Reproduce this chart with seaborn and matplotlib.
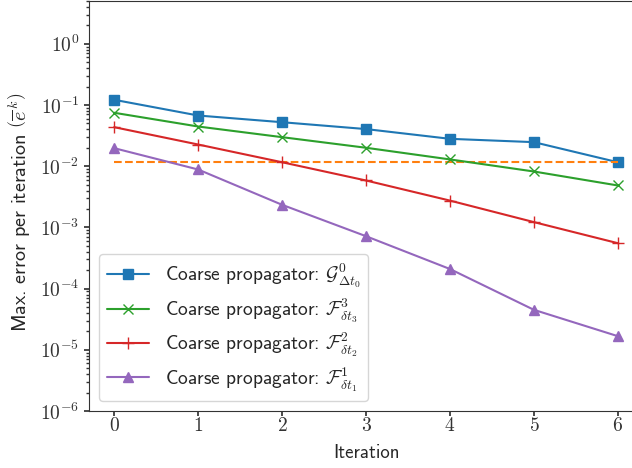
import matplotlib
matplotlib.use("Agg")
import matplotlib.pyplot as plt
import numpy as np
import pandas as pd
import seaborn as sns
from matplotlib.ticker import FuncFormatter, LogLocator, FixedLocator, NullLocator

# Maximum error per Parareal iteration for each coarse propagator
iterations = [0, 1, 2, 3, 4, 5, 6]
err_G0 = [0.1216, 0.0673, 0.0523, 0.0404, 0.0280, 0.0247, 0.0116]
err_F3 = [0.0746, 0.0445, 0.0298, 0.0200, 0.0129, 0.00819, 0.00484]
err_F2 = [0.0434, 0.0226, 0.0116, 0.00584, 0.00274, 0.00122, 0.000552]
err_F1 = [0.0197, 0.00883, 0.00234, 0.000718, 0.000209, 4.5e-5, 1.67e-5]
tolerance = 0.0117
decades = [1e-6, 1e-5, 1e-4, 1e-3, 1e-2, 1e-1, 1e0]

series_labels = [
    r"Coarse propagator: $\mathcal{G}^0_{\Delta t_0}$",
    r"Coarse propagator: $\mathcal{F}^3_{\delta t_3}$",
    r"Coarse propagator: $\mathcal{F}^2_{\delta t_2}$",
    r"Coarse propagator: $\mathcal{F}^1_{\delta t_1}$",
]

sns.set_theme(style="ticks", rc={
    "axes.edgecolor": ".2",
    "xtick.color": ".2",
    "ytick.color": ".2",
    "xtick.major.size": 3.5,
    "ytick.major.size": 3.5,
    "ytick.minor.size": 2,
    "axes.linewidth": 0.8,
})
plt.rcParams["mathtext.fontset"] = "cm"
plt.rcParams["font.family"] = ["cmss10", "DejaVu Sans"]
plt.rcParams["axes.unicode_minus"] = False

df = pd.DataFrame({
    "Iteration": iterations,
    "G0": err_G0,
    "F3": err_F3,
    "F2": err_F2,
    "F1": err_F1,
})

fig = plt.figure(figsize=(6.32, 4.68), dpi=100)
ax = fig.add_axes([89 / 632, 57 / 468, 554 / 632, 410 / 468])

styles = [
    ("G0", "#1f77b4", "s", 7),
    ("F3", "#2ca02c", "x", 7),
    ("F2", "#d62728", "+", 8),
    ("F1", "#9467bd", "^", 7.5),
]

for i, ((col, color, mk, ms), lab) in enumerate(zip(styles, series_labels)):
    sns.lineplot(data=df, x="Iteration", y=col, ax=ax, color=color, marker=mk,
                 markersize=ms, markeredgecolor=color, markerfacecolor=color,
                 markeredgewidth=1.0, linewidth=1.5, label=lab)
    if i == 0:
        # tolerance level, drawn right after the reference propagator
        ax.hlines(tolerance, iterations[0], iterations[-1], colors="#ff7f0e",
                  linestyles="--", linewidth=1.5)

ax.set_yscale("log")
ax.set_ylim(1e-6, 5)
ax.set_xlim(-0.3, 6.3)
ax.xaxis.set_major_locator(FixedLocator(iterations))
ax.xaxis.set_minor_locator(NullLocator())
ax.yaxis.set_major_locator(FixedLocator(decades))
ax.yaxis.set_minor_locator(LogLocator(base=10, subs=np.arange(2, 10), numticks=12))
ax.xaxis.set_major_formatter(FuncFormatter(lambda v, p: r"$%d$" % round(v)))
ax.yaxis.set_major_formatter(FuncFormatter(lambda v, p: r"$10^{%d}$" % round(np.log10(v))))
ax.tick_params(axis="both", labelsize=14)
ax.tick_params(axis="x", pad=0.5)

ax.set_xlabel("Iteration", fontsize=13.5, labelpad=7)
ax.set_ylabel(r"Max. error per iteration $\left(\overline{e}^{\,k}\right)$", fontsize=14.5)
ax.yaxis.set_label_coords(-0.101, 0.485)

ax.legend(loc="lower left", fontsize=14, frameon=True, labelspacing=0.3,
          handlelength=2.2, handletextpad=0.8)

fig.savefig("out.png", dpi=100)
